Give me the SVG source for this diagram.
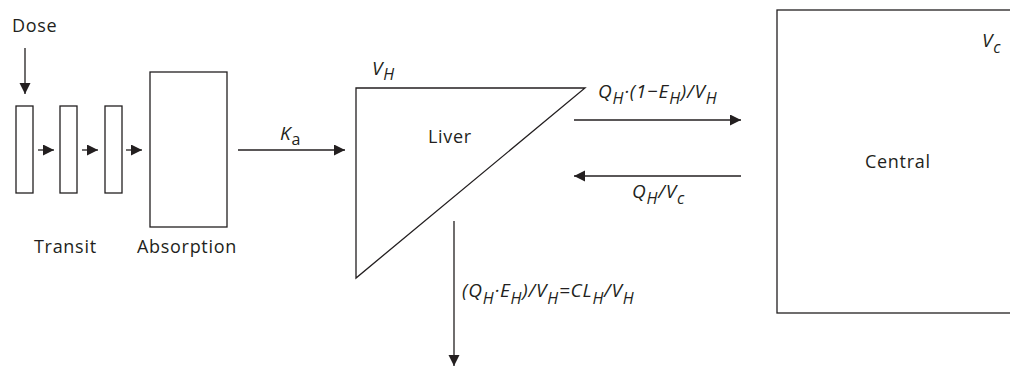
<svg xmlns="http://www.w3.org/2000/svg" width="1010" height="367" viewBox="0 0 1010 367">
<style>
.box{fill:#fff;stroke:#231f20;stroke-width:1.3}
.ln{fill:none;stroke:#231f20;stroke-width:1.3}
.t{font-family:"Open Sans","Noto Sans",sans-serif;font-size:18px;fill:#231f20;letter-spacing:0.7px}
.m{font-family:"Open Sans","Noto Sans",sans-serif;font-size:19px;font-style:italic;fill:#231f20;letter-spacing:0.8px}
.s{font-size:16px}
</style>
<defs>
<marker id="ah" markerUnits="userSpaceOnUse" markerWidth="12" markerHeight="12" refX="11" refY="5.5" orient="auto">
<path d="M0,0 L11,5.5 L0,11 z" fill="#231f20"/>
</marker>
</defs>
<g id="dose"><text class="t" x="12" y="32">Dose</text></g>
<g id="transit1"><rect class="box" x="16" y="106" width="17" height="87"/></g>
<g id="transit2"><rect class="box" x="60" y="106" width="17" height="87"/></g>
<g id="transit3"><rect class="box" x="105" y="106" width="17" height="87"/></g>
<g id="transit-label"><text class="t" x="34" y="253">Transit</text></g>
<g id="absorption"><rect class="box" x="150" y="72" width="77" height="155"/><text class="t" x="137" y="253">Absorption</text></g>
<g id="liver"><polygon class="box" points="356,88 585,88 356,278"/><text class="t" x="428" y="143">Liver</text><text class="m" x="372" y="75">V<tspan class="s" dy="5">H</tspan></text></g>
<g id="central"><rect class="box" x="777" y="10" width="240" height="303"/><text class="t" x="865" y="168">Central</text><text class="m" x="982" y="47">V<tspan class="s" dy="6">c</tspan></text></g>
<g id="connectors">
<line class="ln" x1="25" y1="48" x2="25" y2="94" marker-end="url(#ah)"/>
<line class="ln" x1="38" y1="150" x2="54" y2="150" marker-end="url(#ah)"/>
<line class="ln" x1="82" y1="150" x2="98" y2="150" marker-end="url(#ah)"/>
<line class="ln" x1="126" y1="150" x2="142" y2="150" marker-end="url(#ah)"/>
<line class="ln" x1="238" y1="150" x2="345" y2="150" marker-end="url(#ah)"/>
<line class="ln" x1="574" y1="120" x2="741" y2="120" marker-end="url(#ah)"/>
<line class="ln" x1="741" y1="176" x2="574" y2="176" marker-end="url(#ah)"/>
<line class="ln" x1="454" y1="221" x2="454" y2="366" marker-end="url(#ah)"/>
<text class="m" x="280" y="140">K<tspan class="s" dy="5" font-style="normal">a</tspan></text>
<text class="m" x="598" y="98">Q<tspan class="s" dy="6">H</tspan><tspan dy="-6">·(1−E</tspan><tspan class="s" dy="6">H</tspan><tspan dy="-6">)/V</tspan><tspan class="s" dy="6">H</tspan></text>
<text class="m" x="632" y="198">Q<tspan class="s" dy="6">H</tspan><tspan dy="-6">/V</tspan><tspan class="s" dy="6">c</tspan></text>
<text class="m" x="462" y="297">(Q<tspan class="s" dy="7">H</tspan><tspan dy="-7">·E</tspan><tspan class="s" dy="7">H</tspan><tspan dy="-7">)/V</tspan><tspan class="s" dy="7">H</tspan><tspan dy="-7">=CL</tspan><tspan class="s" dy="7">H</tspan><tspan dy="-7">/V</tspan><tspan class="s" dy="7">H</tspan></text>
</g>
</svg>
